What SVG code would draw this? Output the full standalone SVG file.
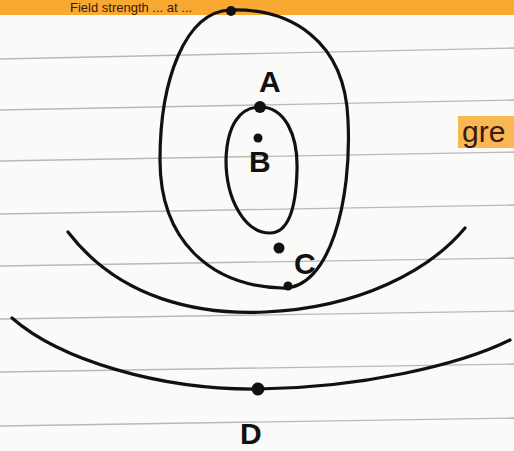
<svg xmlns="http://www.w3.org/2000/svg" width="514" height="451" viewBox="0 0 514 451">
<style>
.rule{stroke:#b8b8b8;stroke-width:1.3;fill:none}
.ink{stroke:#111;stroke-width:3.2;fill:none;stroke-linecap:round;stroke-linejoin:round}
.dot{fill:#111}
.lbl{font-family:"Liberation Sans",Arial,sans-serif;fill:#111;font-size:30px}
.note{font-family:"Liberation Sans",Arial,sans-serif;fill:#3a1a0a}
.hl{fill:#f8a01c}
</style>
<rect width="514" height="451" fill="#fafaf8"/>
<g id="rules">
<path class="rule" d="M0,59 L514,48"/>
<path class="rule" d="M0,110 L514,100"/>
<path class="rule" d="M0,161 L514,152"/>
<path class="rule" d="M0,214 L514,205"/>
<path class="rule" d="M0,266 L514,258"/>
<path class="rule" d="M0,319 L514,311"/>
<path class="rule" d="M0,372 L514,364"/>
<path class="rule" d="M0,426 L514,418"/>
</g>
<g id="highlights">
<rect class="hl" x="0" y="0" width="514" height="15" opacity="0.9"/>
<rect class="hl" x="458" y="116" width="56" height="32" opacity="0.75"/>
</g>
<g id="top-note"><text class="note" x="70" y="12" font-size="13">Field strength ... at ...</text></g>
<g id="side-note"><text class="note" x="462" y="142" font-size="30">gre</text></g>
<g id="connectors">
<path class="ink" d="M230,10 C290,8 345,40 348,120 C352,200 330,290 282,288 C210,286 160,240 160,160 C160,80 185,12 230,10 Z"/>
<path class="ink" d="M260,107 C285,107 298,135 297,170 C296,210 288,233 270,233 C245,233 226,200 226,160 C227,125 240,107 260,107 Z"/>
<path class="ink" d="M68,232 C120,300 200,315 265,312 C360,308 430,270 465,228"/>
<path class="ink" d="M12,318 C60,360 160,390 258,389 C360,388 460,365 510,340"/>
</g>
<g id="node-top"><circle class="dot" cx="231" cy="11" r="5"/></g>
<g id="node-A"><circle class="dot" cx="260" cy="107" r="6"/><text class="lbl" x="259" y="92" font-weight="bold">A</text></g>
<g id="node-B"><circle class="dot" cx="258" cy="138" r="4.5"/><text class="lbl" x="249" y="172" font-size="24" font-weight="bold">B</text></g>
<g id="node-C"><circle class="dot" cx="279" cy="248" r="5.5"/><text class="lbl" x="294" y="274" font-size="26" font-weight="bold">C</text></g>
<g id="node-bottom"><circle class="dot" cx="288" cy="286" r="4.5"/></g>
<g id="node-D"><circle class="dot" cx="258" cy="389" r="6.5"/><text class="lbl" x="240" y="444" font-weight="bold">D</text></g>
</svg>
